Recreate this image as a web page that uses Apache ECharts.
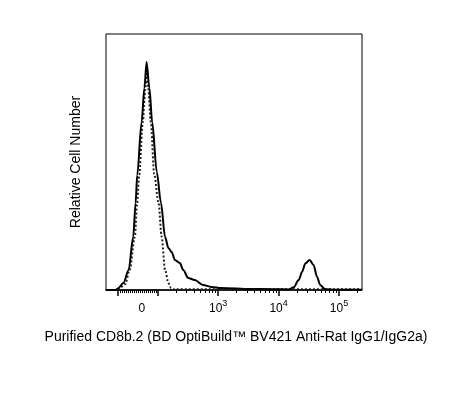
<!DOCTYPE html>
<html>
<head>
<meta charset="utf-8">
<script src="https://cdn.jsdelivr.net/npm/echarts@6/dist/echarts.min.js"></script>
<style>
  html, body { margin: 0; padding: 0; background: #fff; }
  #main { width: 473px; height: 405px; }
</style>
</head>
<body>
<div id="main"></div>
<script>
// fluorescence values (x) and relative counts (% of full scale)
var solidX = [-157, -108, -100, -72, -46, -23, -11, -3, 19, 33, 44, 58, 72, 95, 113, 132, 150, 170, 192, 232, 264, 319, 409, 561, 768, 1120, 3475, 7390, 14750, 17800, 21500, 24500, 27700, 32600, 37900, 43100, 48800, 58900, 85900, 238000];
var solidY = [0, 0, 0.6, 2.7, 7.8, 20.7, 34.0, 44.9, 65.6, 78.9, 89.1, 78.9, 65.6, 46.1, 34.0, 20.7, 16.4, 14.8, 11.7, 10.5, 7.8, 4.7, 3.9, 2.0, 1.2, 0.8, 0.4, 0.3, 0.2, 1.05, 3.9, 7.1, 10.4, 11.7, 9.8, 5.2, 2.0, 0.3, 0.1, 0.1];

// isotype control (dotted)
var isoX = [-157, -108, -100, -63, -41, -15, -3, 7, 25, 37, 47, 52, 65, 82, 103, 116, 132, 150, 165, 183, 238000];
var isoY = [0, 0, 0.2, 2.3, 7.8, 20.7, 34.0, 44.9, 65.6, 78.1, 85.2, 78.9, 65.6, 45.3, 34.0, 20.7, 7.8, 2.7, 0.8, 0.3, 0.3];

// axis ticks
var majorTicks = [-100, 100, 1000, 10000, 100000];
var minorTicks = [-90, -80, -70, -60, -50, -40, -30, -20, -10, 0, 10, 20, 30, 40, 50, 60, 70, 80, 90,
  200, 300, 400, 500, 600, 700, 800, 900,
  2000, 3000, 4000, 5000, 6000, 7000, 8000, 9000,
  20000, 30000, 40000, 50000, 60000, 70000, 80000, 90000, 200000];
var labelValues = [0, 1000, 10000, 100000];
var labelTexts = ['{z|0}', '{b|10}{s|3}', '{b|10}{s|4}', '{b|10}{s|5}'];

var xMin = -157, xMax = 240000;

// biexponential-like display transform: linear near 0, log above 100
var LIN = 20, DEC = 60.5;
function T(v) {
  var a = Math.abs(v);
  if (a <= 100) return v / 100 * LIN;
  return (v < 0 ? -1 : 1) * (LIN + DEC * Math.log10(a / 100));
}

function pairs(xs, ys) {
  var out = [];
  for (var i = 0; i < xs.length; i++) out.push([T(xs[i]), ys[i]]);
  return out;
}

var FONT = 'Liberation Sans, Arial, sans-serif';
var myChart = echarts.init(document.getElementById('main'));

var option = {
  animation: false,
  grid: {
    left: 106, right: 111, top: 34, bottom: 115,
    show: true, borderColor: '#000', borderWidth: 1
  },
  xAxis: [
    {
      type: 'value', min: T(xMin), max: T(xMax),
      splitLine: { show: false },
      axisLine: { show: true, onZero: false, lineStyle: { color: '#000', width: 1.5 } },
      axisTick: { show: true, length: 6, customValues: majorTicks.map(T), lineStyle: { color: '#000', width: 1.5 } },
      axisLabel: {
        show: true, margin: 9, customValues: labelValues.map(T),
        formatter: function (val) {
          var best = 0;
          for (var i = 0; i < labelValues.length; i++) {
            if (Math.abs(T(labelValues[i]) - val) < Math.abs(T(labelValues[best]) - val)) best = i;
          }
          return labelTexts[best];
        },
        rich: {
          b: { fontSize: 12, color: '#000', fontFamily: FONT, lineHeight: 16, verticalAlign: 'bottom' },
          s: { fontSize: 9, color: '#000', fontFamily: FONT, verticalAlign: 'top', lineHeight: 10 },
          z: { fontSize: 12, color: '#000', fontFamily: FONT, lineHeight: 16, padding: [3, 0, 0, 8] }
        }
      }
    },
    {
      type: 'value', min: T(xMin), max: T(xMax), position: 'bottom',
      splitLine: { show: false },
      axisLine: { show: false, onZero: false },
      axisTick: { show: true, length: 3, customValues: minorTicks.map(T), lineStyle: { color: '#000', width: 1 } },
      axisLabel: { show: false }
    }
  ],
  yAxis: {
    type: 'value', min: 0, max: 100,
    show: false
  },
  graphic: [
    {
      type: 'text', x: 236, y: 337,
      style: {
        text: 'Purified CD8b.2 (BD OptiBuild™ BV421 Anti-Rat IgG1/IgG2a)',
        fontSize: 14, fontFamily: FONT, fill: '#000',
        align: 'center', verticalAlign: 'middle'
      }
    },
    {
      type: 'text', x: 76, y: 162, rotation: Math.PI / 2,
      style: {
        text: 'Relative Cell Number',
        fontSize: 14, fontFamily: FONT, fill: '#000',
        align: 'center', verticalAlign: 'middle'
      }
    }
  ],
  series: [
    {
      name: 'isotype', type: 'line', xAxisIndex: 0,
      data: pairs(isoX, isoY),
      showSymbol: false, smooth: 0.3, smoothMonotone: 'x',
      lineStyle: { color: '#222', width: 2, type: [2, 2] },
      z: 2
    },
    {
      name: 'CD8b.2', type: 'line', xAxisIndex: 0,
      data: pairs(solidX, solidY),
      showSymbol: false, smooth: 0.3, smoothMonotone: 'x',
      lineStyle: { color: '#000', width: 2 },
      z: 3
    }
  ]
};
myChart.setOption(option);
</script>
</body>
</html>
